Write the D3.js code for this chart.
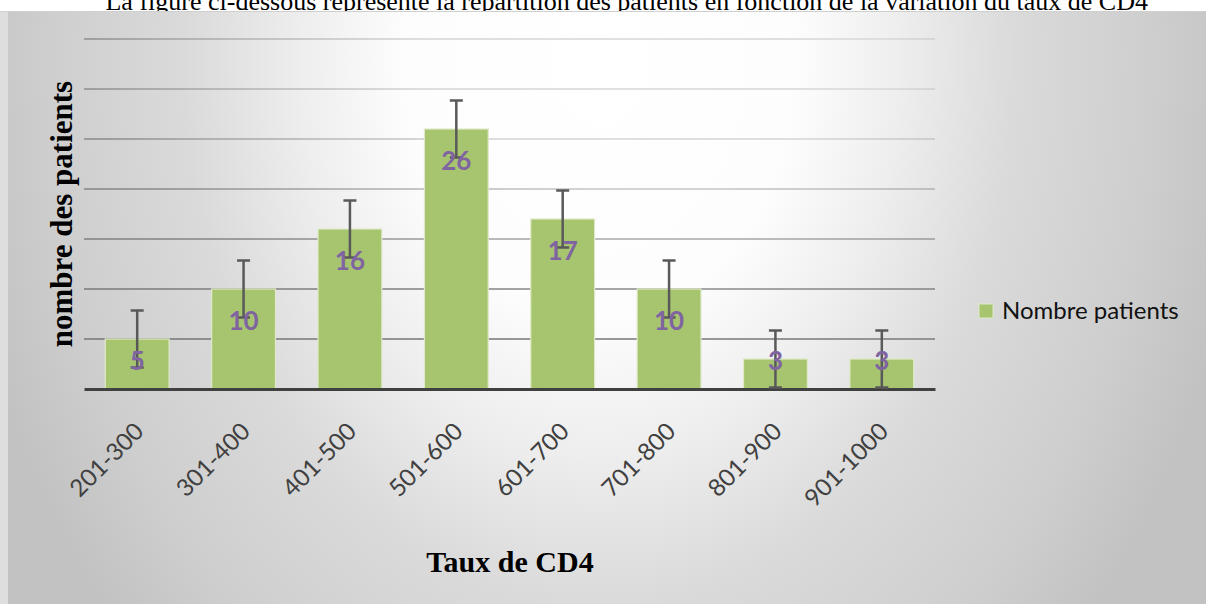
<!DOCTYPE html>
<html>
<head>
<meta charset="utf-8">
<script src="https://cdn.jsdelivr.net/npm/d3@7"></script>
<style>
  html, body { margin: 0; padding: 0; background: #fff; }
  svg { display: block; }
</style>
</head>
<body>
<svg id="chart" width="1206" height="604"></svg>
<script>
// data
const categories = ['201-300', '301-400', '401-500', '501-600', '601-700', '701-800', '801-900', '901-1000'];
const patients = [5, 10, 16, 26, 17, 10, 3, 3];
const errorBars = [2.85, 2.85, 2.85, 2.85, 2.85, 2.85, 2.85, 2.85];
const gridValues = [5, 10, 15, 20, 25, 30, 35];

const titleText = 'La figure ci-dessous représente la répartition des patients en fonction de la variation du taux de CD4';
const seriesName = 'Nombre patients';

const svg = d3.select('#chart');
const plot = { left: 84, right: 935, top: 39, bottom: 389 };
const barColor = '#a7c46f';

const defs = svg.append('defs');

// soft radial background, white near top centre
const bg = defs.append('radialGradient')
    .attr('id', 'bgGrad')
    .attr('gradientUnits', 'userSpaceOnUse')
    .attr('cx', 0).attr('cy', 0).attr('r', 1)
    .attr('gradientTransform', 'translate(600,60) scale(650,850)');
[[0, '#ffffff'], [0.3, '#fdfdfd'], [0.46, '#eeeeee'], [0.64, '#dadada'], [0.85, '#cecece'], [1, '#c2c2c2']]
    .forEach(s => bg.append('stop').attr('offset', s[0]).attr('stop-color', s[1]));

// gridlines fade out where the background is brightest
const gg = defs.append('radialGradient')
    .attr('id', 'gridGrad')
    .attr('gradientUnits', 'userSpaceOnUse')
    .attr('cx', 0).attr('cy', 0).attr('r', 1)
    .attr('gradientTransform', 'translate(650,60) scale(800,350)');
[[0, '#e2e2e2'], [0.3, '#dedede'], [0.45, '#c8c8c8'], [0.72, '#9c9c9c'], [1, '#8c8c8c']]
    .forEach(s => gg.append('stop').attr('offset', s[0]).attr('stop-color', s[1]));

// page text above the chart (cut by the top edge, as in the source)
svg.append('text')
    .attr('x', 1148).attr('y', 10)
    .attr('text-anchor', 'end')
    .style('font-family', '"Liberation Serif", "Times New Roman", serif')
    .style('font-size', '26px')
    .attr('fill', '#000')
    .text(titleText);

svg.append('rect').attr('x', 0).attr('y', 11).attr('width', 1206).attr('height', 593).attr('fill', '#dedede');
svg.append('rect').attr('x', 8).attr('y', 11).attr('width', 1198).attr('height', 593).attr('fill', 'url(#bgGrad)');
svg.append('line').attr('x1', 0).attr('x2', 1206).attr('y1', 11.5).attr('y2', 11.5)
    .attr('stroke', '#cfcfcf').attr('stroke-width', 1);

const x = d3.scaleBand()
    .domain(categories)
    .range([plot.left, plot.right])
    .paddingInner(0.4)
    .paddingOuter(0.2);

const y = d3.scaleLinear()
    .domain([0, 35])
    .range([plot.bottom, plot.top]);

// gridlines
svg.append('g')
    .selectAll('line')
    .data(gridValues)
    .join('line')
    .attr('x1', plot.left).attr('x2', plot.right)
    .attr('y1', d => y(d)).attr('y2', d => y(d))
    .attr('stroke', 'url(#gridGrad)')
    .attr('stroke-width', 2);

// bars
svg.append('g')
    .selectAll('rect')
    .data(patients)
    .join('rect')
    .attr('x', (d, i) => x(categories[i]))
    .attr('y', d => y(d))
    .attr('width', x.bandwidth())
    .attr('height', d => y(0) - y(d))
    .attr('fill', barColor)
    .attr('stroke', '#dfe9c9')
    .attr('stroke-width', 1.2);

// x axis
const xAxis = svg.append('g')
    .attr('transform', `translate(0,${plot.bottom})`)
    .call(d3.axisBottom(x).tickSize(0).tickSizeOuter(0));
xAxis.select('.domain')
    .attr('stroke', '#404040')
    .attr('stroke-width', 3);
xAxis.selectAll('text')
    .attr('x', 0).attr('y', 0).attr('dy', 0)
    .attr('text-anchor', 'end')
    .attr('transform', 'translate(8,44) rotate(-45)')
    .style('font-family', 'Lato, "Open Sans", sans-serif')
    .style('font-size', '24px')
    .attr('fill', '#404040');

// error bars
const err = svg.append('g')
    .attr('stroke', '#595959')
    .attr('stroke-width', 2.5);
patients.forEach((v, i) => {
    const cx = x(categories[i]) + x.bandwidth() / 2;
    const hi = y(v + errorBars[i]);
    const lo = y(v - errorBars[i]);
    err.append('line').attr('x1', cx).attr('x2', cx).attr('y1', hi).attr('y2', lo);
    err.append('line').attr('x1', cx - 6.5).attr('x2', cx + 6.5).attr('y1', hi).attr('y2', hi);
    err.append('line').attr('x1', cx - 6.5).attr('x2', cx + 6.5).attr('y1', lo).attr('y2', lo);
});

// value labels, inside end of each bar
svg.append('g')
    .selectAll('text')
    .data(patients)
    .join('text')
    .attr('x', (d, i) => x(categories[i]) + x.bandwidth() / 2)
    .attr('y', d => Math.min(y(d) + 41, y(0) - 19))
    .attr('text-anchor', 'middle')
    .style('font-family', 'Lato, "Open Sans", sans-serif')
    .style('font-size', '26px')
    .style('font-weight', 'bold')
    .attr('fill', '#8064a2')
    .text(d => d);

// axis titles
svg.append('text')
    .attr('x', 510).attr('y', 572)
    .attr('text-anchor', 'middle')
    .style('font-family', '"Liberation Serif", "Times New Roman", serif')
    .style('font-size', '30px')
    .style('font-weight', 'bold')
    .text('Taux de CD4');

svg.append('text')
    .attr('transform', 'translate(72,214) rotate(-90)')
    .attr('text-anchor', 'middle')
    .style('font-family', '"Liberation Serif", "Times New Roman", serif')
    .style('font-size', '31px')
    .style('font-weight', 'bold')
    .text('nombre des patients');

// legend
const legend = svg.append('g').attr('transform', 'translate(979,304)');
legend.append('rect')
    .attr('width', 14).attr('height', 14)
    .attr('fill', barColor)
    .attr('stroke', '#dfe9c9');
legend.append('text')
    .attr('x', 23).attr('y', 15)
    .style('font-family', 'Lato, "Open Sans", sans-serif')
    .style('font-size', '24px')
    .attr('fill', '#111')
    .text(seriesName);
</script>
</body>
</html>
